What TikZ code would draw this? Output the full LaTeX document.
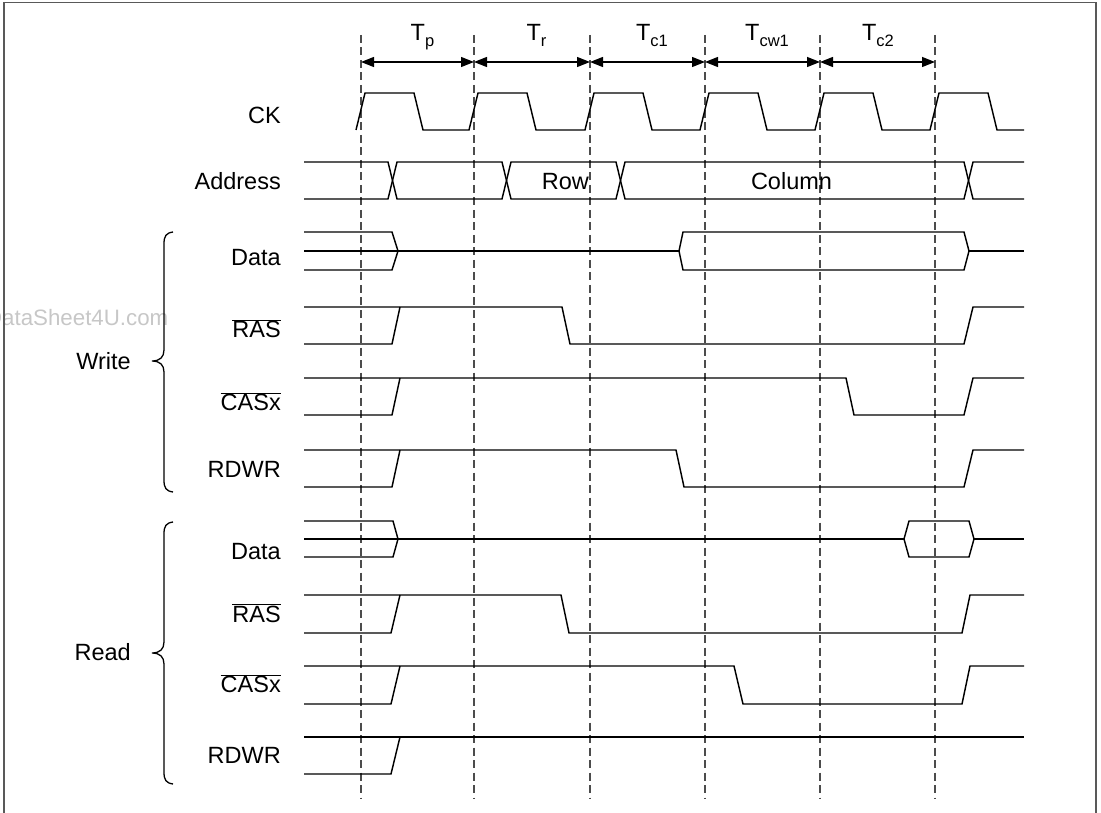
\documentclass[tikz,border=0pt]{standalone}
\usepackage{fontspec}
\setmainfont{Liberation Sans}
\usetikzlibrary{arrows.meta}
\newcommand{\ovl}[1]{\ensuremath{\overline{\mbox{#1}}}}
\newcommand{\tsub}[2]{#1\raisebox{-5.5pt}{\fontsize{16.5}{16.5}\selectfont #2}}
\begin{document}
\begin{tikzpicture}[x=1pt,y=-1pt,
  font=\fontsize{23.5}{28}\selectfont,
  sig/.style={line width=1.45pt, line join=miter},
  gridline/.style={black!70, line width=1.2pt, dash pattern=on 8pt off 4.5pt},
  dim/.style={line width=1.4pt, {Triangle[length=13pt,width=10pt]}-{Triangle[length=13pt,width=10pt]}},
  lab/.style={anchor=base east, inner sep=0pt},
  tlab/.style={anchor=base, inner sep=0pt},
  wlab/.style={anchor=base, inner sep=0pt},
  brace/.style={line width=1.3pt},
  frame/.style={black!65, line width=1.5pt}]
\useasboundingbox (0,0) rectangle (1101,813);

% watermark (cut by the left edge, as in the reference)
\node[anchor=base east, inner sep=0pt, text=black!22, font=\fontsize{22.3}{26}\selectfont] (wm) at (168.5,325) {DataSheet4U.com};

% frame
\draw[frame] (4,813) -- (4,2.5) -- (1096,2.5) -- (1096,813);

% dashed lines and dimension arrows
\foreach \x [count=\i from 0] in {361,474,590,705,820,935} {
  \coordinate (t\i) at (\x,35);
  \coordinate (b\i) at (\x,798);
  \coordinate (a\i) at (\x,62);
  \draw[gridline] (t\i) -- (b\i);
}
\draw[dim] (a0) -- (a1);
\draw[dim] (a1) -- (a2);
\draw[dim] (a2) -- (a3);
\draw[dim] (a3) -- (a4);
\draw[dim] (a4) -- (a5);
\node[tlab] (Tp) at (422.5,41) {\tsub{T}{p}};
\node[tlab] (Tr) at (536.5,41) {\tsub{T}{r}};
\node[tlab] (Tc1) at (652,41) {\tsub{T}{c1}};
\node[tlab] (Tcw1) at (767,41) {\tsub{T}{cw1}};
\node[tlab] (Tc2) at (878,41) {\tsub{T}{c2}};

% signal labels
\node[lab] (lck) at (281,124) {CK};
\node[lab] (laddr) at (281,190) {Address};
\node[lab] (lwd) at (281,265.7) {Data};
\node[lab] (lwras) at (281,337.7) {\ovl{RAS}};
\node[lab] (lwcas) at (281,410.7) {\ovl{CASx}};
\node[lab] (lwrw) at (281,477) {RDWR};
\node[lab] (lrd) at (281,559.3) {Data};
\node[lab] (lrras) at (281,622.3) {\ovl{RAS}};
\node[lab] (lrcas) at (281,692.7) {\ovl{CASx}};
\node[lab] (lrrw) at (281,763.3) {RDWR};
\node[lab] (lw) at (131,369.3) {Write};
\node[lab] (lr) at (131,660.7) {Read};

% braces
\draw[brace] (173,232) .. controls (166,233) and (164,236) .. (164,244) -- (164,350)
  .. controls (164,357) and (160,361) .. (152,361)
  .. controls (160,361) and (164,365) .. (164,372) -- (164,480)
  .. controls (164,488) and (166,491) .. (173,492);
\draw[brace] (173,522) .. controls (166,523) and (164,526) .. (164,534) -- (164,642)
  .. controls (164,649) and (160,653) .. (152,653)
  .. controls (160,653) and (164,657) .. (164,664) -- (164,772)
  .. controls (164,780) and (166,783) .. (173,784);

% CK
\draw[sig] (356,130)
  \foreach \d in {361,474,590,705,820,935} { -- ({\d-5},130) -- ({\d+4},93) -- ({\d+53},93) -- ({\d+62},130) }
  -- (1024,130);

% Address
\draw[sig] (304,162) -- (388,162) -- (397,199) -- (502,199) -- (511,162) -- (616,162) -- (625,199) -- (964,199) -- (973,162) -- (1024,162);
\draw[sig] (304,199) -- (388,199) -- (397,162) -- (502,162) -- (511,199) -- (616,199) -- (625,162) -- (964,162) -- (973,199) -- (1024,199);
\node[wlab] (row) at (565.3,190) {Row};
\node[wlab] (col) at (791.5,190) {Column};

% Write Data
\draw[sig] (304,232) -- (392,232) -- (398,251) -- (392,270) -- (304,270);
\draw[sig] (304,251) -- (679,251);
\draw[sig] (679,251) -- (683,232) -- (964,232) -- (969,251) -- (964,270) -- (683,270) -- cycle;
\draw[sig] (969,251) -- (1024,251);

% Write RAS
\draw[sig] (304,307) -- (562,307) -- (570,344) -- (964,344) -- (973,307) -- (1024,307);
\draw[sig] (304,344) -- (392,344) -- (400,307);
% Write CASx
\draw[sig] (304,378) -- (846,378) -- (854,415) -- (964,415) -- (973,378) -- (1024,378);
\draw[sig] (304,415) -- (392,415) -- (400,378);
% Write RDWR
\draw[sig] (304,450) -- (676,450) -- (684,487) -- (964,487) -- (973,450) -- (1024,450);
\draw[sig] (304,487) -- (392,487) -- (400,450);

% Read Data
\draw[sig] (304,521) -- (393,521) -- (398,539) -- (393,557) -- (304,557);
\draw[sig] (304,539) -- (904,539);
\draw[sig] (904,539) -- (909,521) -- (969,521) -- (974,539) -- (969,557) -- (909,557) -- cycle;
\draw[sig] (974,539) -- (1024,539);
% Read RAS
\draw[sig] (304,595) -- (561,595) -- (569,633) -- (962,633) -- (970,595) -- (1024,595);
\draw[sig] (304,633) -- (391,633) -- (400,595);
% Read CASx
\draw[sig] (304,666) -- (734,666) -- (743,704) -- (962,704) -- (970,666) -- (1024,666);
\draw[sig] (304,704) -- (391,704) -- (400,666);
% Read RDWR
\draw[sig] (304,737) -- (1024,737);
\draw[sig] (304,774) -- (391,774) -- (400,737);
\end{tikzpicture}
\end{document}
